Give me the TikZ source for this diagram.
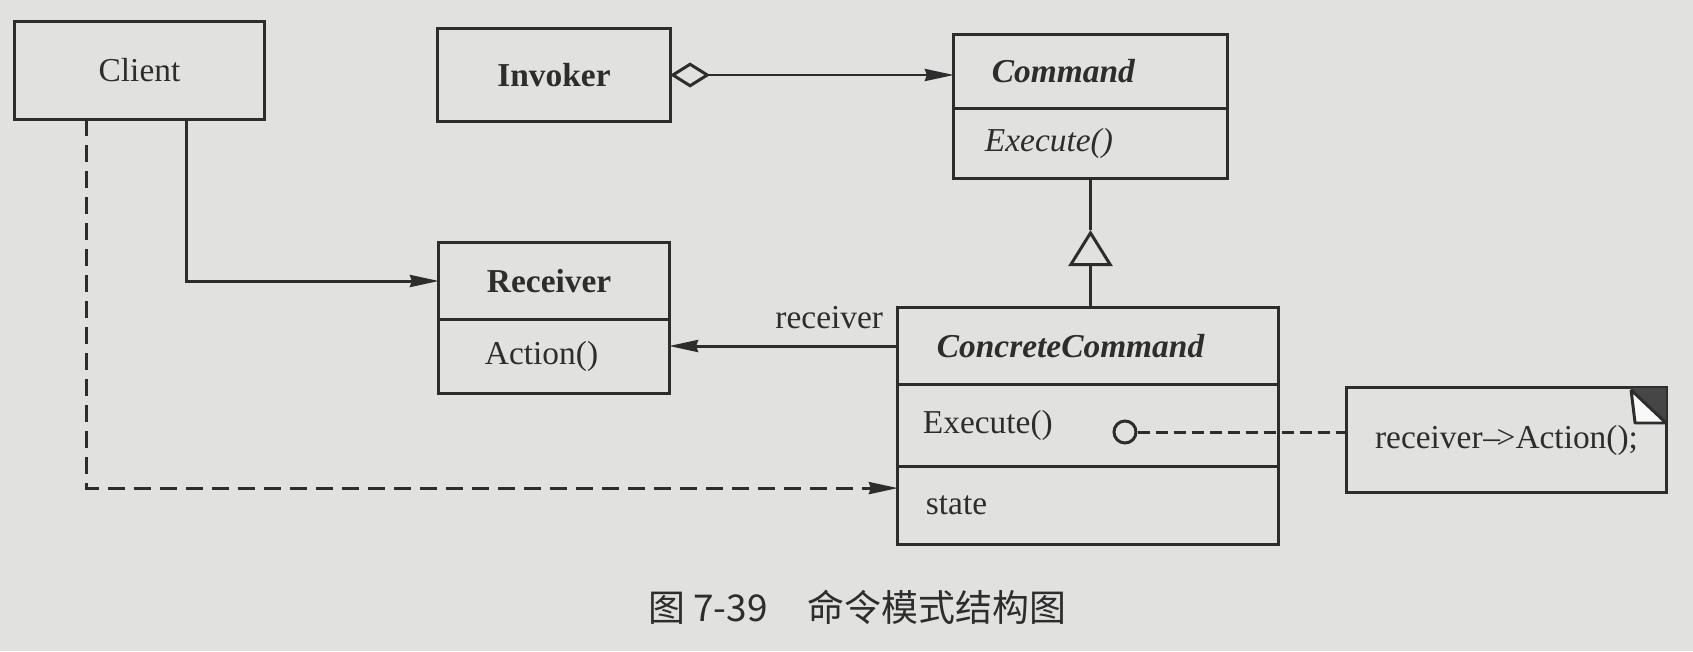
\documentclass[tikz,border=0pt]{standalone}
\usepackage{fontspec}
\setmainfont{Liberation Serif}
\newfontfamily\cjk{Noto Sans CJK SC}
\usepackage{tikz}
\usetikzlibrary{arrows.meta, positioning}
\definecolor{paperColor}{RGB}{225,225,223}
\definecolor{inkColor}{RGB}{45,45,45}
\definecolor{foldColor}{RGB}{70,70,70}
\tikzstyle{umlbox} = [rectangle, draw=inkColor, line width=0.85pt, outer sep=0pt, text=inkColor, font=\fontsize{9.5}{11}\selectfont]
\tikzstyle{part} = [umlbox, inner xsep=0pt, align=left]
\tikzstyle{arrow} = [line width=0.85pt, draw=inkColor, -{Stealth[length=0.29cm, width=0.12cm, inset=0.02cm]}]
\tikzstyle{dep} = [arrow, dash pattern=on 0.17cm off 0.09cm]
\tikzstyle{aggr} = [arrow, {Diamond[open, length=0.40cm, width=0.25cm]}-{Stealth[length=0.29cm, width=0.12cm, inset=0.02cm]}]
\tikzstyle{inherit} = [line width=0.85pt, draw=inkColor, -{Triangle[open, length=0.36cm, width=0.44cm]}]
\tikzstyle{link} = [line width=0.85pt, draw=inkColor, dash pattern=on 0.12cm off 0.06cm]

\begin{document}
\begin{tikzpicture}[x=0.01cm, y=-0.01cm]
    \useasboundingbox[fill=paperColor] (0,0) rectangle (1693,651);

    % classes
    \node (client) [umlbox, minimum width=2.49cm, minimum height=0.97cm] at (139.5,70.5) {Client};
    \node (invoker) [umlbox, minimum width=2.32cm, minimum height=0.92cm, font=\fontsize{9.5}{11}\selectfont\bfseries] at (554,75) {Invoker};

    \node (cmdname) [part, text width=2.73cm, minimum height=0.73cm, font=\fontsize{9.5}{11}\selectfont\bfseries\itshape] at (1090.5,71.5) {\hspace*{0.38cm}Command};
    \node (cmdop) [part, text width=2.73cm, minimum height=0.70cm, font=\fontsize{9.5}{11}\selectfont\itshape, below=0pt of cmdname] {\hspace*{0.31cm}Execute()};

    \node (rcvname) [part, text width=2.30cm, minimum height=0.76cm, font=\fontsize{9.5}{11}\selectfont\bfseries] at (554,281) {\hspace*{0.48cm}Receiver};
    \node (rcvop) [part, text width=2.30cm, minimum height=0.74cm, below=0pt of rcvname] {\hspace*{0.46cm}Action()};

    \node (ccname) [part, text width=3.80cm, minimum height=0.76cm, font=\fontsize{9.5}{11}\selectfont\bfseries\itshape] at (1088,346) {\hspace*{0.39cm}ConcreteCommand};
    \node (ccop) [part, text width=3.80cm, minimum height=0.82cm, below=0pt of ccname] {\hspace*{0.25cm}Execute()};
    \node (ccstate) [part, text width=3.80cm, minimum height=0.78cm, below=0pt of ccop] {\hspace*{0.28cm}state};

    % note
    \node (note) [umlbox, minimum width=3.19cm, minimum height=1.04cm] at (1506.5,440) {receiver\kern0.02em--\kern-0.1em>Action();};
    \fill[foldColor] ([xshift=-0.36cm]note.north east) -- (note.north east) -- ([yshift=-0.36cm]note.north east) -- cycle;
    \filldraw[fill=white!80!paperColor, draw=inkColor, line width=0.85pt, line join=bevel] ([xshift=-0.35cm, yshift=-0.02cm]note.north east) -- ([xshift=-0.31cm, yshift=-0.35cm]note.north east) -- ([yshift=-0.35cm]note.north east) -- cycle;
    \node (hook) [circle, draw=inkColor, line width=0.85pt, minimum size=0.22cm, inner sep=0pt] at (1125,432) {};

    % connectors
    \draw [aggr] (invoker) -- (invoker -| cmdname.west);
    \path (cmdop.south) ++(0,52) coordinate (apex);
    \draw [line width=0.85pt, draw=inkColor] (cmdop.south) -- (apex);
    \draw [inherit] (apex |- ccname.north) -- (apex);
    \draw [arrow] (ccname.west) -- node (role) [pos=0.3, above, yshift=1pt, text=inkColor, font=\fontsize{9.5}{11}\selectfont] {receiver} (ccname.west -| rcvop.east);
    \draw [arrow] ([xshift=0.47cm]client.south) |- (rcvname.west);
    \draw [dep] ([xshift=-0.53cm]client.south) |- ([yshift=0.17cm]ccstate.west);
    \draw [link] (hook) -- (hook -| note.west);

    % caption
    \node (caption) [text=inkColor, font=\fontsize{10.5}{12}\selectfont\cjk] at (857,607) {图 7-39\hspace{0.4cm}命令模式结构图};
\end{tikzpicture}
\end{document}
